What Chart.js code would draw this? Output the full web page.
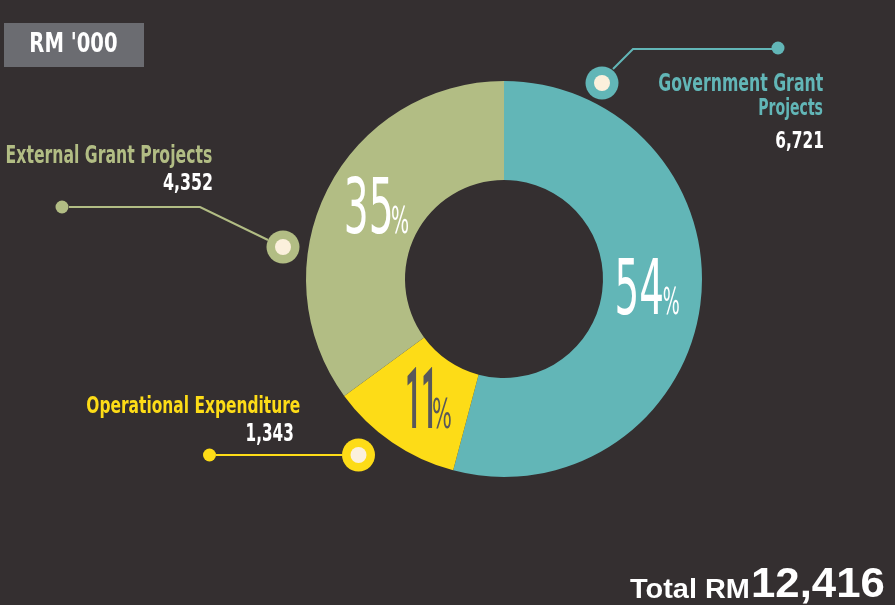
<!DOCTYPE html>
<html>
<head>
<meta charset="utf-8">
<script src="https://cdn.jsdelivr.net/npm/chart.js@4"></script>
<style>
  html, body { margin: 0; padding: 0; background: #342f30; }
  #wrap { width: 895px; height: 605px; position: relative; }
</style>
</head>
<body>
<div id="wrap"><canvas id="c" width="895" height="605"></canvas></div>
<script>
// ---- DATA ----
const categories = ['Government Grant Projects', 'Operational Expenditure', 'External Grant Projects'];
const values = [6721, 1343, 4352];
const sliceColors = ['#62b6b7', '#fddc17', '#b2bd84'];
const unitLabel = "RM '000";
const totalPrefix = 'Total RM';

// ---- LAYOUT (positions / styles only) ----
const BG = '#342f30';
const CREAM = '#fbf0dc';
const COND = '"Liberation Sans Narrow", "DejaVu Sans Condensed", "Roboto Condensed", sans-serif';
const SANS = '"Liberation Sans", Arial, sans-serif';
const ROBOTO = 'Roboto, "Open Sans", sans-serif';

// per slice: label placement, number placement, leader line, percent label offsets
const callouts = [
  { // Government
    lines: [
      { words: [0, 2], x1: 659, x2: 823, top: 73, base: 91 },
      { words: [2, 3], x1: 759, x2: 823, top: 98, base: 115 }
    ],
    num: { x1: 776, x2: 823, top: 131, base: 148 },
    path: [[613, 69], [633, 49], [772, 49]], small: [778, 48], big: [602, 83],
    pct: { dx: -34, dy: 16, dW: 45, dH: 57, pW: 16, pH: 28, family: COND, weight: '400', color: '#ffffff' }
  },
  { // Operational
    lines: [ { words: [0, 2], x1: 87, x2: 300, top: 395, base: 413 } ],
    num: { x1: 247, x2: 293, top: 423, base: 441 },
    path: [[216, 455], [342, 455]], small: [209.5, 455], big: [358.5, 455],
    pct: { dx: -13, dy: 26, dW: 25, dH: 61, pW: 18, pH: 31, family: ROBOTO, weight: '700', color: '#58585a' }
  },
  { // External
    lines: [ { words: [0, 3], x1: 7, x2: 212, top: 144, base: 163 } ],
    num: { x1: 163, x2: 212, top: 173, base: 190 },
    path: [[69, 207], [200, 207], [268, 240]], small: [62, 207], big: [283, 247],
    pct: { dx: -25, dy: 21, dW: 44, dH: 58, pW: 17, pH: 28, family: COND, weight: '400', color: '#ffffff' }
  }
];

// draw text so that its ink box fills [x1,x2] horizontally, top..base vertically
function fitText(ctx, text, x1, x2, top, base, family, weight, color) {
  ctx.save();
  ctx.textAlign = 'left';
  ctx.textBaseline = 'alphabetic';
  ctx.font = weight + ' 100px ' + family;
  const m = ctx.measureText(text);
  const size = 100 * (base - top) / m.actualBoundingBoxAscent;
  ctx.font = weight + ' ' + size + 'px ' + family;
  const m2 = ctx.measureText(text);
  const w = m2.actualBoundingBoxLeft + m2.actualBoundingBoxRight;
  const sx = (x2 - x1) / w;
  ctx.translate(x1, base);
  ctx.scale(sx, 1);
  ctx.fillStyle = color;
  ctx.fillText(text, m2.actualBoundingBoxLeft, 0);
  ctx.restore();
}

const fmt = v => v.toLocaleString('en-US');

const decorPlugin = {
  id: 'decor',
  beforeDraw(chart) {
    const ctx = chart.ctx;
    ctx.save();
    ctx.fillStyle = BG;
    ctx.fillRect(0, 0, chart.width, chart.height);
    // unit box
    ctx.fillStyle = '#6b6c71';
    ctx.fillRect(4, 23, 140, 44);
    ctx.restore();
    fitText(ctx, unitLabel, 31, 117, 32, 52, COND, '700', '#ffffff');
  },
  afterDraw(chart) {
    const ctx = chart.ctx;
    const meta = chart.getDatasetMeta(0);
    const total = values.reduce((a, b) => a + b, 0);
    callouts.forEach((c, i) => {
      const col = sliceColors[i];
      // leader line
      ctx.save();
      ctx.strokeStyle = col;
      ctx.lineWidth = 2;
      ctx.beginPath();
      c.path.forEach((p, k) => k ? ctx.lineTo(p[0], p[1]) : ctx.moveTo(p[0], p[1]));
      ctx.stroke();
      ctx.fillStyle = col;
      ctx.beginPath(); ctx.arc(c.small[0], c.small[1], 6.5, 0, Math.PI * 2); ctx.fill();
      ctx.beginPath(); ctx.arc(c.big[0], c.big[1], 16.5, 0, Math.PI * 2); ctx.fill();
      ctx.fillStyle = CREAM;
      ctx.beginPath(); ctx.arc(c.big[0], c.big[1], 8, 0, Math.PI * 2); ctx.fill();
      ctx.restore();
      // category label
      const words = categories[i].split(' ');
      c.lines.forEach(l => {
        fitText(ctx, words.slice(l.words[0], l.words[1]).join(' '), l.x1, l.x2, l.top, l.base, COND, '700', col);
      });
      // value
      fitText(ctx, fmt(values[i]), c.num.x1, c.num.x2, c.num.top, c.num.base, COND, '700', '#ffffff');
      // percentage on the arc
      const pos = meta.data[i].tooltipPosition();
      const p = c.pct;
      const left = pos.x + p.dx, base = pos.y + p.dy;
      const pctTxt = String(Math.round(values[i] / total * 100));
      fitText(ctx, pctTxt, left, left + p.dW, base - p.dH, base, p.family, p.weight, p.color);
      fitText(ctx, '%', left + p.dW + 1, left + p.dW + 1 + p.pW, base - p.pH, base, COND, '400', p.color);
    });
    // total
    fitText(ctx, totalPrefix, 630, 748, 578, 598, SANS, '700', '#ffffff');
    fitText(ctx, fmt(total), 753, 884, 567, 597, SANS, '700', '#ffffff');
  }
};

new Chart(document.getElementById('c'), {
  type: 'doughnut',
  data: {
    labels: categories,
    datasets: [{
      data: values,
      backgroundColor: sliceColors,
      borderWidth: 0
    }]
  },
  options: {
    responsive: false,
    animation: false,
    cutout: '50%',
    layout: { padding: { left: 306, right: 193, top: 81, bottom: 128 } },
    plugins: { legend: { display: false }, tooltip: { enabled: false } }
  },
  plugins: [decorPlugin]
});
</script>
</body>
</html>
